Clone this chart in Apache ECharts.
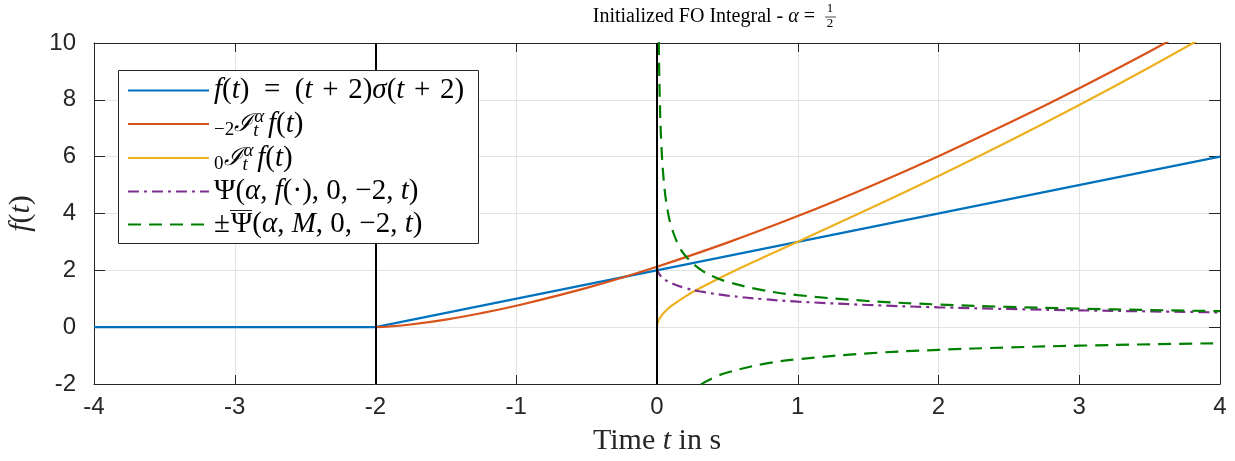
<!DOCTYPE html>
<html><head><meta charset="utf-8">
<script src="https://cdn.jsdelivr.net/npm/echarts@6/dist/echarts.min.js"></script>
<style>html,body{margin:0;padding:0;background:#fff}#c{width:1235px;height:461px}</style>
</head><body><div id="c"></div>
<script>
const xTicks = [-4, -3, -2, -1, 0, 1, 2, 3, 4];
const yTicks = [-2, 0, 2, 4, 6, 8, 10];
const blueT = [-4, -2, 4];
const blueY = [0, 0, 6];
const orangeT = [-2, -1.9, -1.75, -1.5, -1.25, -1, -0.5, 0, 0.5, 1, 1.5, 2, 2.5, 3, 3.5, 4];
const orangeY = [0, 0.024, 0.094, 0.266, 0.489, 0.752, 1.382, 2.128, 2.974, 3.909, 4.926, 6.018, 7.181, 8.411, 9.704, 11.05];
const yellowT = [0, 0.002, 0.005, 0.01, 0.02, 0.05, 0.1, 0.2, 0.3, 0.5, 0.75, 1, 1.5, 2, 2.5, 3, 3.5, 4];
const yellowY = [0, 0.101, 0.160, 0.226, 0.321, 0.513, 0.737, 1.077, 1.360, 1.862, 2.443, 3.009, 4.146, 5.319, 6.542, 7.818, 9.148, 10.532];
const purpleT = [0, 0.002, 0.005, 0.01, 0.02, 0.05, 0.1, 0.2, 0.3, 0.5, 0.75, 1, 1.5, 2, 2.5, 3, 3.5, 4];
const purpleY = [2.128, 2.030, 1.976, 1.918, 1.839, 1.695, 1.552, 1.378, 1.264, 1.112, 0.988, 0.900, 0.780, 0.699, 0.639, 0.593, 0.556, 0.520];
const greenUpT = [0.005, 0.01, 0.0127, 0.015, 0.02, 0.03, 0.05, 0.075, 0.1, 0.15, 0.2, 0.3, 0.4, 0.5, 0.75, 1, 1.5, 2, 2.5, 3, 3.5, 4];
const greenUpY = [15.95, 11.28, 10.0, 9.21, 7.98, 6.51, 5.045, 4.119, 3.567, 2.913, 2.522, 2.060, 1.784, 1.595, 1.303, 1.128, 0.921, 0.798, 0.713, 0.651, 0.603, 0.564];
const greenLowT = [0.2, 0.3, 0.4, 0.5, 0.75, 1, 1.5, 2, 2.5, 3, 3.5, 4];
const greenLowY = [-2.522, -2.060, -1.784, -1.595, -1.303, -1.128, -0.921, -0.798, -0.713, -0.651, -0.603, -0.564];
const markX = [-2, 0];

const zip = (a, b) => a.map((v, i) => [v, b[i]]);
const SERIF = "'Liberation Serif','DejaVu Serif',serif";
const SANS = "'Liberation Sans','DejaVu Sans',sans-serif";
const FS = 29;
const LH = 33;
const rich = {
  r: {fontFamily: SERIF, fontSize: FS, color: '#000', lineHeight: LH},
  i: {fontFamily: SERIF, fontSize: FS, fontStyle: 'italic', color: '#000', lineHeight: LH},
  ovl: {fontFamily: "'DejaVu Serif',serif", fontSize: 22, color: '#000', lineHeight: 22, padding: [0, 0, 6, 0], width: 1},
  cal: {fontFamily: "'DejaVu Serif',serif", fontSize: FS - 4, fontStyle: 'italic', color: '#000', lineHeight: LH},
  sub: {fontFamily: SERIF, fontSize: 19, color: '#000', padding: [13, 0, 0, 0], lineHeight: 18},
  subi: {fontFamily: SERIF, fontSize: 19, fontStyle: 'italic', color: '#000', padding: [13, 0, 0, 0], lineHeight: 18, width: 1},
  supi: {fontFamily: SERIF, fontSize: 19, fontStyle: 'italic', color: '#000', padding: [0, 0, 15, 0], lineHeight: 18}
};
const labels = {
  'f': '{i|f}{r|(}{i|t}{r|)\u2002=\u2002(}{i|t}{r|\u2004+\u20042)}{i|σ}{r|(}{i|t}{r|\u2004+\u20042)}',
  'I2': '{sub|−2}{cal|ℐ}{subi|t}{supi|α\u2009}{i|f}{r|(}{i|t}{r|)}',
  'I0': '{sub|0}{cal|ℐ}{subi|t}{supi|α\u2009}{i|f}{r|(}{i|t}{r|)}',
  'Psi': '{r|Ψ(}{i|α}{r|, }{i|f}{r|(·), 0, −2, }{i|t}{r|)}',
  'PsiBar': '{r|±}{ovl|‾‾}{r|Ψ(}{i|α}{r|, }{i|M}{r|, 0, −2, }{i|t}{r|)}'
};

const chart = echarts.init(document.getElementById('c'), null, {renderer: 'canvas'});
const axisCol = '#262626';
const base = {
  type: 'line', showSymbol: false, symbol: 'none', smooth: 0.4,
  xAxisIndex: 0, yAxisIndex: 0, clip: true, z: 3
};
const nameRich = {
  r: {fontFamily: SERIF, fontSize: 30, color: '#262626', lineHeight: 30},
  i: {fontFamily: SERIF, fontSize: 30, fontStyle: 'italic', color: '#262626', lineHeight: 30}
};
chart.setOption({
  animation: false,
  grid: {left: 94, right: 15, top: 43, bottom: 77, containLabel: false, outerBoundsMode: 'none'},
  graphic: [
    {type: 'text', x: 815, y: 17, z: 30, style: {
      text: 'Initialized FO Integral - {i|α} =', textAlign: 'right', textVerticalAlign: 'middle',
      font: '20px ' + SERIF, fill: '#000',
      rich: {i: {fontFamily: SERIF, fontSize: 20, fontStyle: 'italic', fill: '#000'}}
    }},
    {type: 'text', x: 830, y: 9, z: 30, style: {text: '1', textAlign: 'center', textVerticalAlign: 'middle', font: '13px ' + SERIF, fill: '#000'}},
    {type: 'line', z: 30, shape: {x1: 825, y1: 17, x2: 836, y2: 17}, style: {stroke: '#000', lineWidth: 0.7}},
    {type: 'text', x: 830, y: 24, z: 30, style: {text: '2', textAlign: 'center', textVerticalAlign: 'middle', font: '13px ' + SERIF, fill: '#000'}},
    {type: 'rect', z: 19, shape: {x: 118.5, y: 70.5, width: 360, height: 173}, style: {fill: '#fff', stroke: axisCol, lineWidth: 1}}
  ],
  legend: {
    show: true, orient: 'vertical', left: 118, top: 70, z: 20,
    padding: [4, 10, 5, 9], itemGap: 0, itemWidth: 81, itemHeight: 14,
    backgroundColor: 'transparent', borderWidth: 0,
    data: ['f', 'I2', 'I0', 'Psi', 'PsiBar'],
    formatter: n => labels[n],
    itemStyle: {opacity: 0},
    textStyle: {rich: rich, fontFamily: SERIF, fontSize: FS, color: '#000', lineHeight: LH},
    selectedMode: false
  },
  xAxis: [{
    type: 'value', min: xTicks[0], max: xTicks[xTicks.length - 1], interval: 1, position: 'bottom',
    name: '{r|Time }{i|t}{r| in s}', nameLocation: 'middle', nameGap: 42,
    nameTextStyle: {rich: nameRich},
    axisLine: {show: true, onZero: false, lineStyle: {color: axisCol, width: 1}},
    axisTick: {show: true, inside: true, length: 9, lineStyle: {color: axisCol}},
    axisLabel: {show: true, margin: 11, fontFamily: SANS, fontSize: 24, color: axisCol, formatter: v => String(v)},
    splitLine: {show: true, lineStyle: {color: '#e3e3e3', width: 1}}
  }, {
    type: 'value', min: xTicks[0], max: xTicks[xTicks.length - 1], interval: 1, position: 'top',
    axisLine: {show: true, onZero: false, lineStyle: {color: axisCol, width: 1}},
    axisTick: {show: true, inside: true, length: 9, lineStyle: {color: axisCol}},
    axisLabel: {show: false}, splitLine: {show: false}
  }],
  yAxis: [{
    type: 'value', min: yTicks[0], max: yTicks[yTicks.length - 1], interval: 2, position: 'left',
    name: '{i|f}{r|(}{i|t}{r|)}', nameLocation: 'middle', nameGap: 58, nameRotate: 90,
    nameTextStyle: {rich: nameRich},
    axisLine: {show: true, onZero: false, lineStyle: {color: axisCol, width: 1}},
    axisTick: {show: true, inside: true, length: 11, lineStyle: {color: axisCol}},
    axisLabel: {show: true, margin: 18, fontFamily: SANS, fontSize: 24, color: axisCol, formatter: v => String(v)},
    splitLine: {show: true, lineStyle: {color: '#e3e3e3', width: 1}}
  }, {
    type: 'value', min: yTicks[0], max: yTicks[yTicks.length - 1], interval: 2, position: 'right',
    axisLine: {show: true, onZero: false, lineStyle: {color: axisCol, width: 1}},
    axisTick: {show: true, inside: true, length: 11, lineStyle: {color: axisCol}},
    axisLabel: {show: false}, splitLine: {show: false}
  }],
  series: [
    Object.assign({}, base, {name: 'f', smooth: false, data: zip(blueT, blueY), lineStyle: {color: '#0072BD', width: 2.2}, itemStyle: {color: '#0072BD'},
      markLine: {silent: true, symbol: ['none', 'none'], label: {show: false}, animation: false,
        lineStyle: {color: '#000', width: 2, type: 'solid'}, emphasis: {disabled: true},
        data: markX.map(v => ({xAxis: v}))}}),
    Object.assign({}, base, {name: 'I2', data: zip(orangeT, orangeY), lineStyle: {color: '#D95319', width: 2.2}, itemStyle: {color: '#D95319'}}),
    Object.assign({}, base, {name: 'I0', data: zip(yellowT, yellowY), lineStyle: {color: '#EDB120', width: 2.2}, itemStyle: {color: '#EDB120'}}),
    Object.assign({}, base, {name: 'Psi', data: zip(purpleT, purpleY), lineStyle: {color: '#7E2F8E', width: 2.2, type: [11, 5, 3, 5]}, itemStyle: {color: '#7E2F8E'}}),
    Object.assign({}, base, {name: 'PsiBar', data: zip(greenUpT, greenUpY), lineStyle: {color: '#008000', width: 2.2, type: [13, 8]}, itemStyle: {color: '#008000'}}),
    Object.assign({}, base, {name: 'PsiBarLow', data: zip(greenLowT, greenLowY), lineStyle: {color: '#008000', width: 2.2, type: [13, 8]}, itemStyle: {color: '#008000'}})
  ]
});
</script>
</body></html>
